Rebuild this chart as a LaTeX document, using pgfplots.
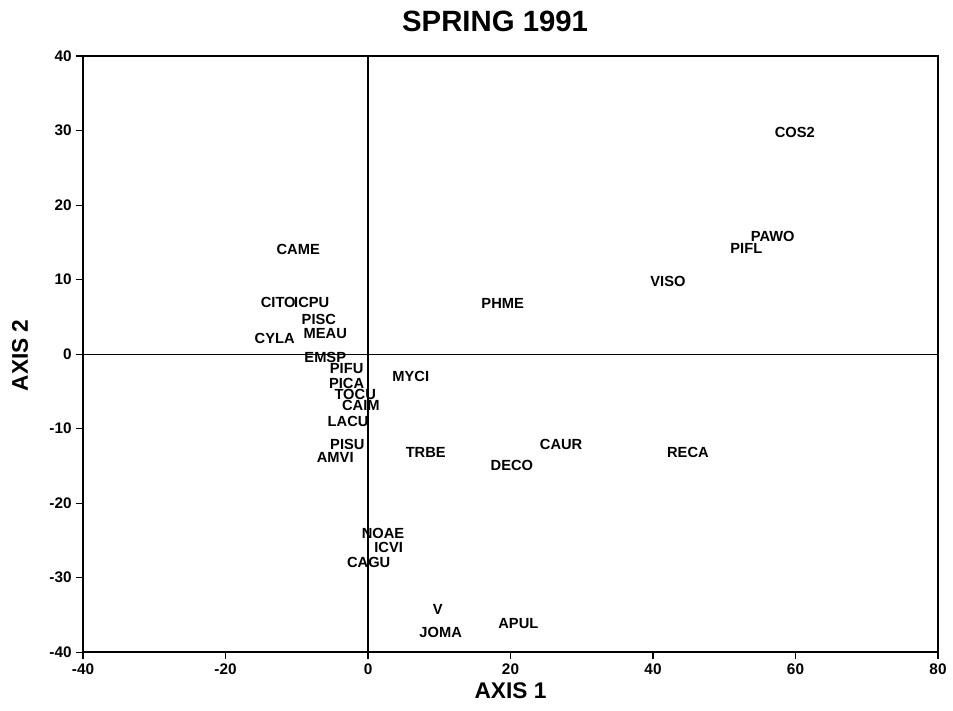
\documentclass[border=0pt]{standalone}
\usepackage{pgfplots}
\pgfplotsset{compat=1.18}
\usepackage{pgfplotstable}
\usepackage{fontspec}
\setmainfont{Liberation Sans}
\pgfplotstableread{
x y label
59.9 29.8 COS2
56.8 15.8 PAWO
53.1 14.2 PIFL
42.1 9.8 VISO
18.9 6.8 PHME
-9.8 14.1 CAME
-12.6 7.0 CITO
-7.9 7.0 ICPU
-6.9 4.6 PISC
-6.0 2.8 MEAU
-13.1 2.1 CYLA
-6.0 -0.4 EMSP
-3.0 -1.9 PIFU
-3.0 -3.9 PICA
-1.8 -5.4 TOCU
-1.0 -6.9 CAIM
-2.8 -9.0 LACU
6.0 -3.0 MYCI
-2.9 -12.1 PISU
-4.6 -13.8 AMVI
8.1 -13.2 TRBE
27.1 -12.1 CAUR
20.2 -14.9 DECO
44.9 -13.2 RECA
2.1 -24.0 NOAE
2.9 -26.0 ICVI
0.1 -28.0 CAGU
9.8 -34.2 V
10.2 -37.4 JOMA
21.1 -36.2 APUL
}\datatable
\begin{document}
\begin{tikzpicture}
\path[use as bounding box] (-62.25pt,-43.5pt) rectangle (652.25pt,489pt);
\begin{axis}[
  at={(0,0)}, anchor=south west,
  scale only axis, width=641pt, height=447pt,
  xmin=-40, xmax=80, ymin=-40, ymax=40,
  xtick={-40,-20,0,20,40,60,80},
  ytick={-40,-30,-20,-10,0,10,20,30,40},
  xtick pos=bottom, ytick pos=left,
  tick align=outside,
  major tick length=5pt,
  axis line style={line width=1.1pt},
  tick style={line width=0.8pt, black},
  /pgf/number format/assume math mode=true,
  ticklabel style={font=\fontsize{11.5}{13}\selectfont\bfseries},
  title={SPRING 1991},
  title style={font=\fontsize{22}{26}\selectfont\bfseries, at={(axis description cs:0.482,1)}, anchor=center, yshift=20pt},
  xlabel={AXIS 1},
  xlabel style={font=\fontsize{17}{20}\selectfont\bfseries, at={(axis description cs:0.5,-0.064)}, anchor=center},
  ylabel={AXIS 2},
  ylabel style={font=\fontsize{17}{20}\selectfont\bfseries, at={(axis description cs:-0.0737,0.498)}, anchor=center, rotate=0},
  clip=false,
]
\addplot[black, line width=0.5pt, forget plot] coordinates {(-40,0) (80,0)};
\addplot[black, line width=1.1pt, forget plot] coordinates {(0,-40) (0,40)};
\addplot[only marks, mark=none,
  nodes near coords,
  point meta=explicit symbolic,
  every node near coord/.style={anchor=center, font=\fontsize{11}{13}\selectfont\bfseries, inner sep=0pt},
] table[x=x, y=y, meta=label] {\datatable};
\end{axis}
\end{tikzpicture}
\end{document}
